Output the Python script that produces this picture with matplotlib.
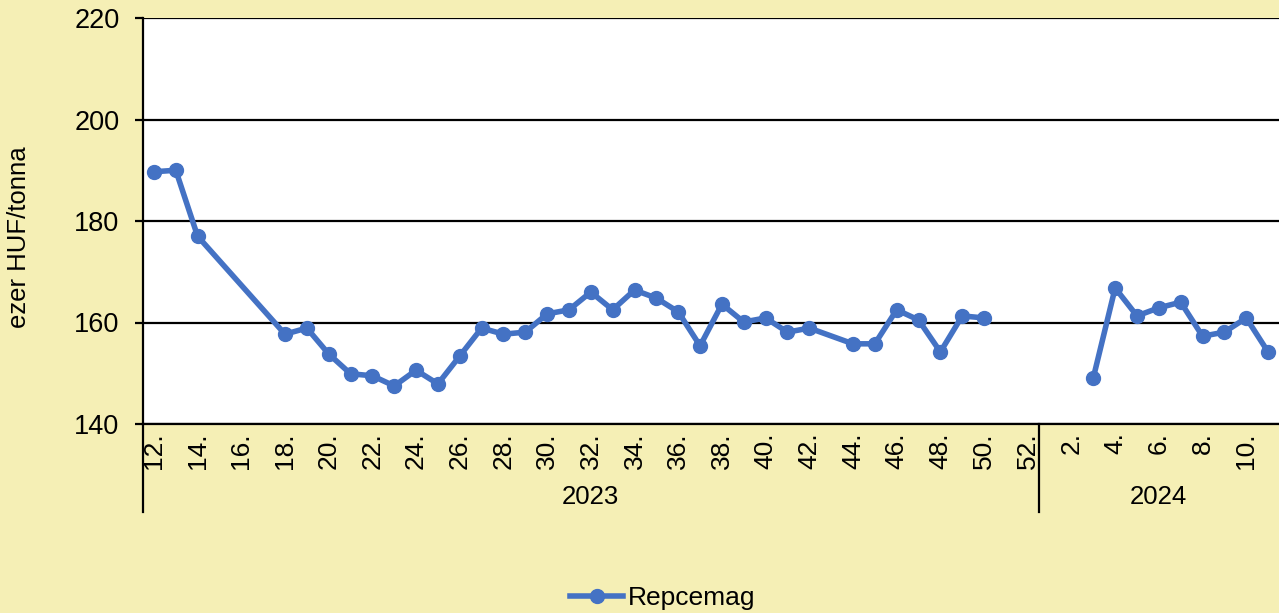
import numpy as np
import matplotlib
matplotlib.use("Agg")
import matplotlib.pyplot as plt
from matplotlib.lines import Line2D

plt.rcParams['font.family'] = ['Liberation Sans', 'DejaVu Sans']

# --- data ---
weeks_2023 = list(range(12, 53))
weeks_2024 = list(range(1, 12))
nan = np.nan
values_2023 = [189.7, 190.0, 177.0, nan, nan, nan, 157.7, 158.9, 153.8, 149.9,
               149.5, 147.5, 150.6, 147.9, 153.4, 158.9, 157.7, 158.1, 161.7, 162.5,
               166.0, 162.5, 166.4, 164.8, 162.1, 155.4, 163.6, 160.1, 160.9, 158.1,
               158.9, nan, 155.8, 155.8, 162.5, 160.5, 154.2, 161.3, 160.9, nan, nan]
values_2024 = [nan, nan, 149.1, 166.8, 161.3, 162.9, 164.0, 157.3, 158.1, 160.9, 154.2]
years = ["2023", "2024"]
series_name = "Repcemag"
y_label = "ezer HUF/tonna"
y_ticks = [140, 160, 180, 200, 220]

bg = "#F5EFB5"
blue = "#4472C4"

fig = plt.figure(figsize=(12.79, 6.13), dpi=100, facecolor=bg)
ax = fig.add_axes([143/1279, (613-424)/613, 1 - 143/1279, (424-18)/613])
ax.set_facecolor("white")

n23 = len(weeks_2023)
x23 = np.arange(n23)
x24 = np.arange(n23, n23 + len(weeks_2024))
v23 = np.array(values_2023, dtype=float)
v24 = np.array(values_2024, dtype=float)

for xs, vs in ((x23, v23), (x24, v24)):
    m = ~np.isnan(vs)
    ax.plot(xs[m], vs[m], color=blue, lw=4.0, marker='o', ms=10,
            solid_joinstyle='round', solid_capstyle='round', zorder=3)

ax.set_xlim(-0.5, n23 + len(weeks_2024) - 0.5)
ax.set_ylim(140, 220)
ax.set_yticks(y_ticks)
ax.tick_params(axis='y', labelsize=19.5, length=6, width=1.6, pad=11, colors='black')
ax.yaxis.grid(True, color='black', lw=1.6)
ax.set_axisbelow(True)

all_x = np.concatenate([x23, x24])
all_labels = [f"{w}." for w in weeks_2023] + [f"{w}." for w in weeks_2024]
ax.set_xticks(all_x[::2])
ax.set_xticklabels(all_labels[::2], rotation=90, fontsize=19)
ax.tick_params(axis='x', length=0, pad=6)

for s in ('top', 'right'):
    ax.spines[s].set_visible(False)
ax.spines['left'].set_linewidth(1.6)
ax.spines['bottom'].set_linewidth(1.6)

# extended separators below axis
ext = -(512 - 424) / 406
trans = ax.get_xaxis_transform()
for xv in (-0.5, n23 - 0.5):
    ax.add_line(Line2D([xv, xv], [0, ext], transform=trans, color='black',
                       lw=1.6, clip_on=False))

# year labels
ax.text((x23[0] + x23[-1]) / 2, -(497 - 424) / 406, years[0], transform=trans,
        ha='center', va='center', fontsize=18.5)
ax.text((x24[0] + x24[-1]) / 2, -(497 - 424) / 406, years[1], transform=trans,
        ha='center', va='center', fontsize=18.5)

fig.text(19/1279, 1 - 237/613, y_label, rotation=90, ha='center', va='center',
         fontsize=18.5)

handle = Line2D([], [], color=blue, lw=4.0, marker='o', ms=10)
fig.legend([handle], [series_name], loc='center', bbox_to_anchor=(663/1279, 1 - 598/613),
           frameon=False, fontsize=19, handlelength=2.0, handletextpad=0.2)

fig.savefig("out.png", dpi=100, facecolor=bg)
